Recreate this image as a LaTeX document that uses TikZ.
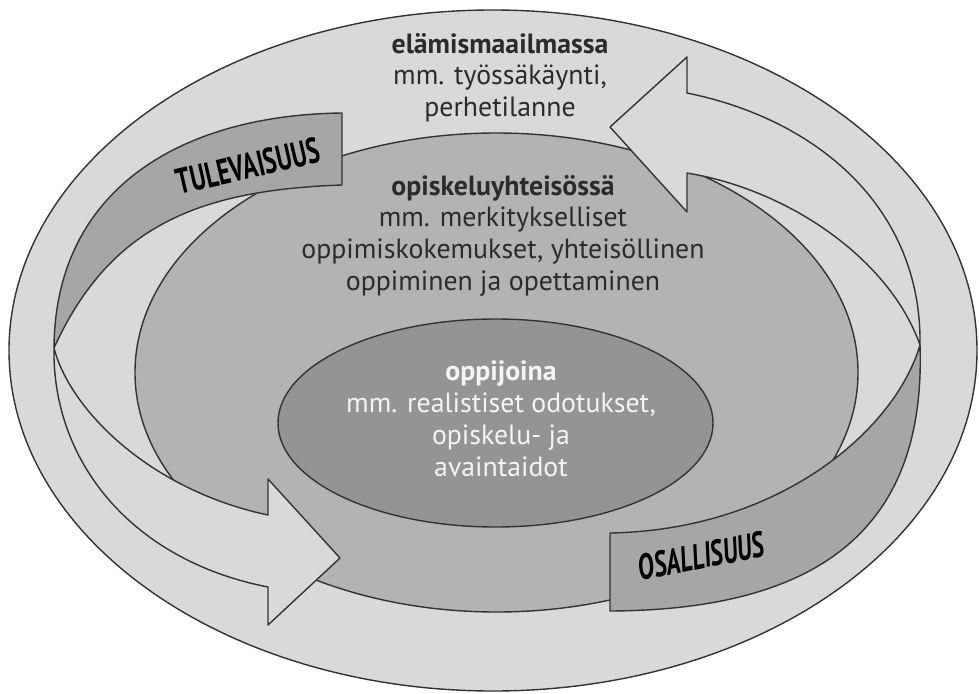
\documentclass[tikz,border=0pt]{standalone}
\usepackage{fontspec}
\setmainfont{PT Sans}
\usepackage{tikz}
\usepackage{graphicx}

\definecolor{outerfill}{HTML}{D9D9D9}
\definecolor{midfill}{HTML}{B3B3B3}
\definecolor{innerfill}{HTML}{949494}
\definecolor{bandfill}{HTML}{A6A6A6}
\definecolor{edgeline}{HTML}{333333}
\definecolor{ink}{HTML}{2B2B2B}
\definecolor{innerink}{HTML}{F4F4F4}

\newcommand{\narrow}[1]{\scalebox{0.68}[1]{#1}}

\tikzset{
    zone/.style={draw=edgeline, line width=1.4pt, line join=round},
    zonetext/.style={align=center, inner sep=0pt, text=ink, font=\fontsize{27.8}{31.7}\selectfont},
    ribbontext/.style={inner sep=0pt, text=black, font=\bfseries\fontsize{36}{36}\selectfont}
}

\begin{document}
\begin{tikzpicture}[x=1pt,y=-1pt]
                \useasboundingbox (0,0) rectangle (979,693);
                \filldraw[zone,fill=outerfill] (493,350.5) ellipse [x radius=484pt,y radius=340.5pt];
                \filldraw[zone,fill=midfill] (496.5,372.5) ellipse [x radius=361.5pt,y radius=239.5pt];
                \filldraw[zone,fill=innerfill] (495.5,423) ellipse [x radius=217.5pt,y radius=104pt];
                \coordinate (twistL) at (54,348);
                \coordinate (twistR) at (920,345);
                \filldraw[zone,fill=bandfill] (342,113) .. controls (180,115) and (55,190) .. (twistL)
                    .. controls (110,225) and (200,190) .. (342,185) -- cycle;
                \filldraw[zone,fill=outerfill] (twistL) .. controls (70,410) and (150,490) .. (268,515)
                    -- (268,479) -- (340,558) -- (268,625) -- (268,587)
                    .. controls (130,560) and (52,460) .. (twistL) -- cycle;
                \filldraw[zone,fill=bandfill] (610,533) .. controls (780,530) and (895,430) .. (twistR)
                    .. controls (926,520) and (830,610) .. (610,611) -- cycle;
                \filldraw[zone,fill=outerfill] (687,93) .. controls (820,120) and (922,210) .. (twistR)
                    .. controls (890,260) and (790,190) .. (687,173)
                    -- (687,212) -- (610,127) -- (687,57) -- cycle;
                \node[zonetext,anchor=north] (lifeworld) at (500,33) {\textbf{elämismaailmassa}\\mm. työssäkäynti,\\perhetilanne};
                \node[zonetext,anchor=north] (community) at (503,175) {\textbf{opiskeluyhteisössä}\\mm. merkitykselliset\\oppimiskokemukset, yhteisöllinen\\oppiminen ja opettaminen};
                \node[zonetext,anchor=north,text=innerink] (learners) at (501,361) {\textbf{oppijoina}\\mm. realistiset odotukset,\\opiskelu- ja\\avaintaidot};
                \node[ribbontext,rotate=13] (future) at (248,166) {\narrow{TULEVAISUUS}};
                \node[ribbontext,font=\bfseries\itshape\fontsize{36}{36}\selectfont,rotate=11] (participation) at (701,556) {\narrow{OSALLISUUS}};
            \end{tikzpicture}
\end{document}
